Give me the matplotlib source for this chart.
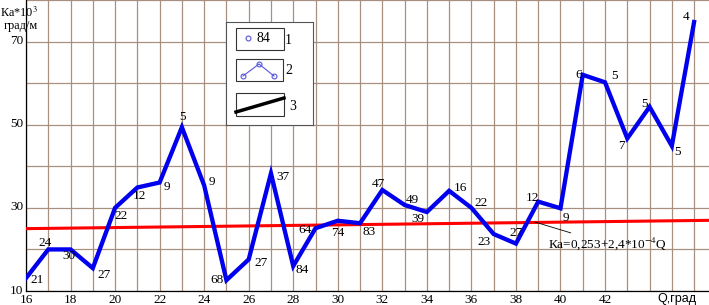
import matplotlib.pyplot as plt
from matplotlib.transforms import ScaledTranslation

plt.rcParams['font.family'] = ['Liberation Serif', 'DejaVu Serif']
plt.rcParams['mathtext.fontset'] = 'stix'

# Data
angles = list(range(16, 47))
ka_values = [13.1, 20.0, 20.0, 15.5, 30.0, 34.9, 36.1, 49.4, 35.4, 12.6,
             17.6, 38.3, 16.0, 25.1, 26.9, 26.3, 34.3, 30.7, 29.0, 34.1,
             30.0, 23.7, 21.4, 31.5, 29.9, 62.0, 60.2, 46.7, 54.3, 44.9, 74.7]
point_labels = ['21', '24', '30', '27', '22', '12', '9', '5', '9', '68',
                '27', '37', '84', '64', '74', '83', '47', '49', '39', '16',
                '22', '23', '27', '12', '9', '6', '5', '7', '5', '5', '4']
# label offsets in pixels (dx, dy)
label_offsets = [(11, -2), (-3, 6), (-2, -7), (11, -7), (6, -8), (2, -9), (7, -5),
                 (1, 10), (8, 3), (-9, 0), (12, -4), (12, -4), (9, -4), (-11, -2),
                 (0, -12), (9, -9), (-4, 6), (8, 5), (-9, -7), (11, 3), (10, 5),
                 (-10, -8), (0, 11), (-6, 4), (5, -10), (-4, 0), (9, 6), (-6, -8),
                 (-5, 3), (6, -6), (-8, 5)]

trend_x = [16, 46.7]
trend_y = [25.0, 27.0]

xtick_labels = [16, 18, 20, 22, 24, 26, 28, 30, 32, 34, 36, 38, 40, 42]
ytick_labels = [10, 30, 50, 70]

W, H = 709, 305
fig = plt.figure(figsize=(W / 100, H / 100), dpi=100)
ax = fig.add_axes([26 / W, 14 / H, 683 / W, 291 / H])

ax.set_xlim(16, 16 + 683 / 22.27)
ax.set_ylim(10, 80)

ax.set_xticks(xtick_labels)
ax.set_xticks(range(16, 47), minor=True)
ax.set_yticks(ytick_labels)
ax.set_yticks(range(10, 81, 10), minor=True)
ax.grid(True, which='both', color='#a89080', linewidth=0.9)
ax.set_axisbelow(True)
ax.tick_params(which='both', length=0, labelsize=9.5, pad=2)
# y labels sit a bit higher than the grid lines
for lbl in ax.get_yticklabels():
    lbl.set_transform(lbl.get_transform() + ScaledTranslation(0, 2 / 100, fig.dpi_scale_trans))
for s in ['top', 'right']:
    ax.spines[s].set_visible(False)
for s in ['left', 'bottom']:
    ax.spines[s].set_linewidth(0.9)

# trend line
ax.plot(trend_x, trend_y, color='#ff0000', linewidth=2.2, zorder=3)

# measured values
ax.plot(angles, ka_values, color='#0000ee', linewidth=3.1, zorder=4,
        solid_joinstyle='miter')

for x, y, lab, (dx, dy) in zip(angles, ka_values, point_labels, label_offsets):
    ax.annotate(lab, (x, y), xytext=(dx, dy), textcoords='offset pixels',
                ha='center', va='center', fontsize=9.5, zorder=5)

# formula with leader line
ax.annotate('Ка=0,253+2,4*10$^{-4}$Q', (38.85, 26.6), xytext=(13, -22),
            textcoords='offset pixels', ha='left', va='center', fontsize=9.5,
            arrowprops=dict(arrowstyle='-', color='black', lw=0.6,
                            shrinkA=0, shrinkB=0), zorder=5)

# axis captions
fig.text(38 / W, 1 - 13 / H, 'Ка*10$^3$', ha='right', va='center', fontsize=8.8)
fig.text(38 / W, 1 - 26 / H, 'град/м', ha='right', va='center', fontsize=8.8)
fig.text(677 / W, 1 - 299 / H, 'Q,град', ha='center', va='center', fontsize=9,
         family='Liberation Sans')

# legend panel drawn in pixel coordinates
lg = fig.add_axes([226 / W, 1 - 125 / H, 87 / W, 103 / H])
lg.set_xlim(0, 87)
lg.set_ylim(103, 0)
lg.set_xticks([])
lg.set_yticks([])
for s in lg.spines.values():
    s.set_color('#555555')
    s.set_linewidth(0.8)
lg.set_facecolor('white')
for (x0, y0, w, h) in [(10, 6, 48, 22), (10, 37, 47, 22), (10, 71, 48, 23)]:
    lg.add_patch(plt.Rectangle((x0, y0), w, h, fill=False, edgecolor='#333333', lw=0.8))
lg.plot([22], [16], 'o', mfc='none', mec='#5555dd', ms=3.5, mew=0.8)
lg.text(37, 16, '84', ha='center', va='center', fontsize=10)
lg.plot([17, 33, 48], [54, 42, 54], color='#5555dd', lw=0.8, marker='o',
        mfc='none', mec='#5555dd', ms=3.5, mew=0.8)
lg.plot([10, 58], [90, 76], color='black', lw=2.5)
lg.text(62, 18, '1', ha='center', va='center', fontsize=10)
lg.text(63, 49, '2', ha='center', va='center', fontsize=10)
lg.text(67, 84, '3', ha='center', va='center', fontsize=10)

fig.savefig('out.png', dpi=100)
